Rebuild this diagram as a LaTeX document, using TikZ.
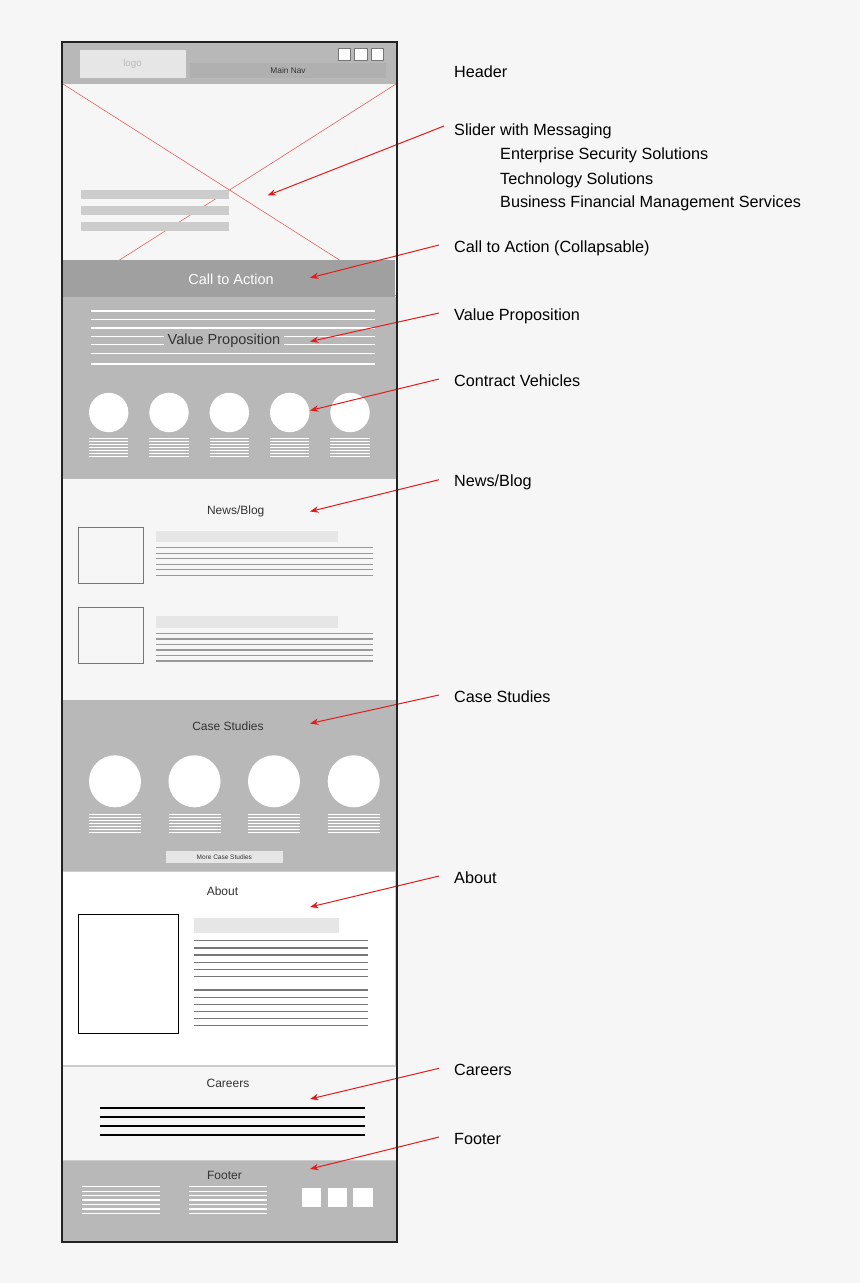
\documentclass[tikz,border=0pt]{standalone}
\usepackage{fontspec}
\setmainfont{Liberation Sans}
\usetikzlibrary{arrows.meta, positioning}
\definecolor{pagebg}{HTML}{F6F6F6}
\definecolor{block}{HTML}{B8B8B8}
\definecolor{navbar}{HTML}{B0B0B0}
\definecolor{cta}{HTML}{A0A0A0}
\definecolor{bar}{HTML}{E6E6E6}
\definecolor{slidebar}{HTML}{CCCCCC}
\definecolor{edge}{HTML}{CCCCCC}
\definecolor{rule}{HTML}{999999}
\definecolor{thumb}{HTML}{777777}
\definecolor{note}{HTML}{E31B1B}
\definecolor{ink}{HTML}{333333}
\definecolor{frame}{HTML}{222222}

\begin{document}
\begin{tikzpicture}[x=1pt, y=-1pt, every node/.style={inner sep=0pt},
    callout/.style={anchor=base west, text=black, font=\fontsize{16.2}{19}\selectfont},
    heading/.style={anchor=base, text=ink, font=\fontsize{12}{14}\selectfont},
    pointer/.style={-{Stealth[length=8.5pt, width=6.5pt]}, draw=note, line width=1pt},
    whiteline/.style={draw=white, line width=1.2pt},
    greyline/.style={draw=rule, line width=1.3pt},
    xline/.style={draw=note!70, line width=0.6pt},
    iconbox/.style={draw=thumb, fill=white, line width=0.8pt, minimum size=12.5pt}]

    \path[use as bounding box, fill=pagebg] (0,0) rectangle (860,1283);

    \fill[block] (62,43) rectangle (396,84);
    \node[fill=bar, minimum width=106pt, minimum height=28pt, text=gray!55,
          font=\fontsize{9.7}{12}\selectfont] (logo) at (132.5,63.5) {logo};
    \node[fill=navbar, minimum width=196pt, minimum height=14.4pt, text=ink,
          font=\fontsize{8.3}{10}\selectfont] (mainnav) at (288,70.5) {Main Nav};
    \foreach \x [count=\i] in {344.5,360.8,377.3}
        \node[iconbox] (btn\i) at (\x,54.2) {};

    \draw[xline] (63,84) -- (396,296);
    \draw[xline] (396,84) -- (63,296);
    \foreach \y in {190,206,222}
        \fill[slidebar] (81,\y) rectangle (229,\y+9);

    \fill[cta] (62,260) rectangle (395,297);
    \node[anchor=base, text=white, font=\fontsize{14.5}{17}\selectfont] (ctatext) at (231,284.3) {Call to Action};

    \fill[block] (62,297) rectangle (396,479);
    \foreach \y in {311,319.7,328,336.3,344.7,353.3,364}
        \draw[whiteline] (90.5,\y) -- (374.5,\y);
    \node[anchor=base, fill=block, inner xsep=4pt, inner ysep=1.5pt, text=ink,
          font=\fontsize{14.5}{17}\selectfont] (vptext) at (224,344.3) {Value Proposition};
    \foreach \x in {108.7,169,229.3,289.7,350} {
        \fill[white] (\x,412.5) circle (19.7);
        \foreach \k in {0,...,6}
            \draw[whiteline, line width=0.9pt] (\x-19.7,438.3+3.07*\k) -- (\x+19.7,438.3+3.07*\k);
    }

    \node[heading] (newstext) at (235.7,514.3) {News/Blog};
    \foreach \y in {527.3,607.7}
        \draw[draw=thumb, line width=1pt] (78.3,\y) rectangle (143,\y+55.7);
    \fill[bar] (156,531) rectangle (338,542);
    \fill[bar] (156,616.3) rectangle (338,627.7);
    \foreach \k in {0,...,5} {
        \draw[greyline] (156,547.7+5.5*\k) -- (373,547.7+5.5*\k);
        \draw[greyline] (156,633.3+5.55*\k) -- (373,633.3+5.55*\k);
    }

    \fill[block] (62,700) rectangle (396,871);
    \node[heading] (casestext) at (228,730) {Case Studies};
    \foreach \x in {115,194.5,274,353.7} {
        \fill[white] (\x,781.3) circle (26);
        \foreach \k in {0,...,6}
            \draw[whiteline, line width=0.9pt] (\x-26,814.3+3.05*\k) -- (\x+26,814.3+3.05*\k);
    }
    \node[fill=bar, minimum width=116.7pt, minimum height=11.7pt, text=ink,
          font=\fontsize{6.5}{8}\selectfont] (morecases) at (224.3,856.8) {More Case Studies};

    \filldraw[fill=white, draw=edge, line width=1.5pt] (62.5,871.7) rectangle (396,1066);
    \node[heading] (abouttext) at (222.5,895) {About};
    \draw[black, line width=1pt, fill=white] (78.3,914.3) rectangle (178.7,1033.3);
    \fill[bar] (194.3,918) rectangle (339,932.7);
    \foreach \k in {0,...,5} {
        \draw[greyline, draw=thumb] (194,940.7+7.2*\k) -- (368,940.7+7.2*\k);
        \draw[greyline, draw=thumb] (194,990+7.15*\k) -- (368,990+7.15*\k);
    }

    \node[heading] (careerstext) at (228,1087.3) {Careers};
    \foreach \y in {1108,1117.1,1126.2,1135.3}
        \draw[black, line width=1.8pt] (100.3,\y) -- (364.7,\y);

    \fill[block] (62,1160) rectangle (396,1241);
    \draw[edge, line width=1pt] (62,1160) -- (396,1160);
    \node[heading] (footertext) at (224.5,1179.3) {Footer};
    \foreach \x in {82,189}
        \foreach \k in {0,...,6}
            \draw[whiteline] (\x,1186.7+4.45*\k) -- (\x+78,1186.7+4.45*\k);
    \foreach \x [count=\i] in {311.7,337.3,363}
        \node[fill=white, minimum size=19.3pt] (social\i) at (\x,1197.2) {};

    \node[callout] (hdr) at (454,77.7) {Header};
    \node[callout] (slider) at (454,135) {Slider with Messaging};
    \node[callout] (sub1) at (500,159.3) {Enterprise Security Solutions};
    \node[callout] (sub2) at (500,184.3) {Technology Solutions};
    \node[callout] (sub3) at (500,207.7) {Business Financial Management Services};
    \node[callout] (cta) at (454,252) {Call to Action (Collapsable)};
    \node[callout] (valprop) at (454,320) {Value Proposition};
    \node[callout] (vehicles) at (454,386) {Contract Vehicles};
    \node[callout] (news) at (454,486.7) {News/Blog};
    \node[callout] (cases) at (454,702) {Case Studies};
    \node[callout] (about) at (454,883) {About};
    \node[callout] (careers) at (454,1075.3) {Careers};
    \node[callout] (footer) at (454,1144) {Footer};

    \coordinate (sliderPt) at (267.5,195.5);
    \coordinate (ctaPt) at (310,277.8);
    \coordinate (valpropPt) at (310,341.5);
    \coordinate (vehiclesPt) at (310,410.5);
    \coordinate (newsPt) at (310,511.5);
    \coordinate (casesPt) at (310,723.5);
    \coordinate (aboutPt) at (310,907);
    \coordinate (careersPt) at (310,1099);
    \coordinate (footerPt) at (310,1169);

    \draw[pointer] ([xshift=-10pt, yshift=9pt]slider.base west) -- (sliderPt);
    \foreach \n in {cta,valprop,vehicles,news,cases,about,careers,footer}
        \draw[pointer] ([xshift=-15pt, yshift=7pt]\n.base west) -- (\n Pt);

    \draw[frame, line width=2pt] (62,42) rectangle (397,1242);
\end{tikzpicture}
\end{document}
